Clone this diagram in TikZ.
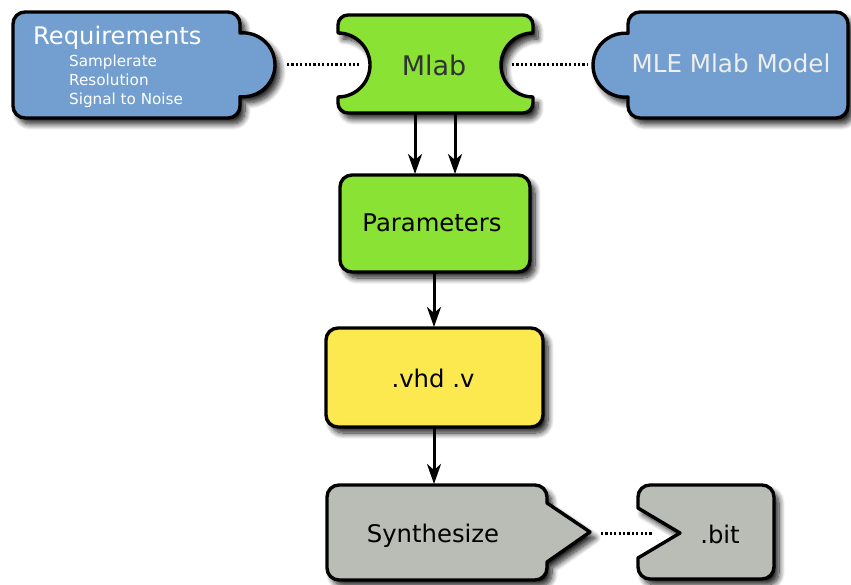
\documentclass[tikz,border=0pt]{standalone}
\usepackage{fontspec}
\setmainfont{DejaVu Sans}
\usetikzlibrary{arrows.meta,shadows.blur}
\definecolor{skyblue}{HTML}{729FCF}
\definecolor{chameleon}{HTML}{8AE234}
\definecolor{butter}{HTML}{FCE94F}
\definecolor{alum}{HTML}{BABDB6}
\definecolor{lighttxt}{HTML}{EEEEEC}
\definecolor{darktxt}{HTML}{2E3436}
\tikzset{
  shapebox/.style={draw=black,line width=3.4pt,line join=round,
    blur shadow={shadow xshift=5pt,shadow yshift=-6pt,shadow blur steps=10,shadow opacity=90,shadow blur radius=6pt}},
  txt/.style={inner sep=0pt,anchor=base,font=\fontsize{24.3}{28}\selectfont},
  subtxt/.style={inner sep=0pt,anchor=base west,text=white,font=\fontsize{15.2}{17}\selectfont},
  flow/.style={line width=3pt,-{Stealth[length=20pt,width=14pt,inset=6pt]}},
  dotline/.style={line width=3pt,dash pattern=on 2.2pt off 2.2pt}
}
\begin{document}
\begin{tikzpicture}[x=1pt,y=-1pt]
\useasboundingbox (0,0) rectangle (851,585);
% Requirements
\path[shapebox,fill=skyblue] (25,12) -- (228,12) arc[start angle=90,end angle=0,radius=12pt]
  -- (240,33) arc[start angle=95.4,end angle=-95.4,radius=32pt]
  -- (240,106) arc[start angle=0,end angle=-90,radius=12pt]
  -- (25,118) arc[start angle=270,end angle=180,radius=12pt]
  -- (13,24) arc[start angle=180,end angle=90,radius=12pt] -- cycle;
\node[txt,anchor=base west,text=white,font=\fontsize{24.2}{28}\selectfont] (req) at (33,45) {Requirements};
\node[subtxt] (req1) at (69,66.5) {Samplerate};
\node[subtxt] (req2) at (69,85.5) {Resolution};
\node[subtxt] (req3) at (69,104.3) {Signal to Noise};
% Mlab
\path[shapebox,fill=chameleon] (348,15) -- (523,15) arc[start angle=90,end angle=0,radius=10pt]
  -- (533,33) arc[start angle=90,end angle=270,radius=32pt]
  -- (533,103) arc[start angle=0,end angle=-90,radius=10pt]
  -- (348,113) arc[start angle=270,end angle=180,radius=10pt]
  -- (338,97) arc[start angle=-90,end angle=90,radius=32pt]
  -- (338,25) arc[start angle=180,end angle=90,radius=10pt] -- cycle;
\node[txt,text=darktxt,font=\fontsize{27}{30}\selectfont] (mlab) at (434,76) {Mlab};
% MLE Mlab Model
\path[shapebox,fill=skyblue] (640,12) -- (836,12) arc[start angle=90,end angle=0,radius=12pt]
  -- (848,106) arc[start angle=0,end angle=-90,radius=12pt]
  -- (640,118) arc[start angle=270,end angle=180,radius=12pt]
  -- (628,97) arc[start angle=-84.6,end angle=-275.4,radius=32pt]
  -- (628,24) arc[start angle=180,end angle=90,radius=12pt] -- cycle;
\node[txt,text=lighttxt,font=\fontsize{24.6}{28}\selectfont] (mle) at (731,72.5) {MLE Mlab Model};
% Parameters
\path[shapebox,fill=chameleon,rounded corners=12pt] (340,175) rectangle (530,272);
\node[txt] (par) at (432,232) {Parameters};
% vhd
\path[shapebox,fill=butter,rounded corners=12pt] (326,328) rectangle (543,427);
\node[txt] (vhd) at (433,387) {.vhd .v};
% Synthesize
\path[shapebox,fill=alum] (339,485) -- (535,485) arc[start angle=90,end angle=0,radius=12pt]
  -- (547,503) -- (590,532) -- (547,562)
  -- (547,568) arc[start angle=0,end angle=-90,radius=12pt]
  -- (339,580) arc[start angle=270,end angle=180,radius=12pt]
  -- (327,497) arc[start angle=180,end angle=90,radius=12pt] -- cycle;
\node[txt] (syn) at (433,542) {Synthesize};
% bit
\path[shapebox,fill=alum] (650,485) -- (762,485) arc[start angle=90,end angle=0,radius=12pt]
  -- (774,567) arc[start angle=0,end angle=-90,radius=12pt]
  -- (650,579) arc[start angle=270,end angle=180,radius=12pt]
  -- (638,558) -- (680,533) -- (638,508)
  -- (638,497) arc[start angle=180,end angle=90,radius=12pt] -- cycle;
\node[txt] (bit) at (720,543) {.bit};
% connector end points
\coordinate (reqE) at (287,65);
\coordinate (mlabW) at (359,65);
\coordinate (mlabE) at (512,65);
\coordinate (mleW) at (587,65);
\coordinate (mlabS1) at (415,114);
\coordinate (mlabS2) at (455,114);
\coordinate (parN1) at (415,174);
\coordinate (parN2) at (455,174);
\coordinate (parS) at (434,273);
\coordinate (vhdN) at (434,327);
\coordinate (vhdS) at (434,428);
\coordinate (synN) at (434,484);
\coordinate (synE) at (601,533);
\coordinate (bitW) at (653,533);
\draw[dotline] (reqE) -- (mlabW);
\draw[dotline] (mlabE) -- (mleW);
\draw[dotline] (synE) -- (bitW);
\draw[flow] (mlabS1) -- (parN1);
\draw[flow] (mlabS2) -- (parN2);
\draw[flow] (parS) -- (vhdN);
\draw[flow] (vhdS) -- (synN);
\end{tikzpicture}
\end{document}
